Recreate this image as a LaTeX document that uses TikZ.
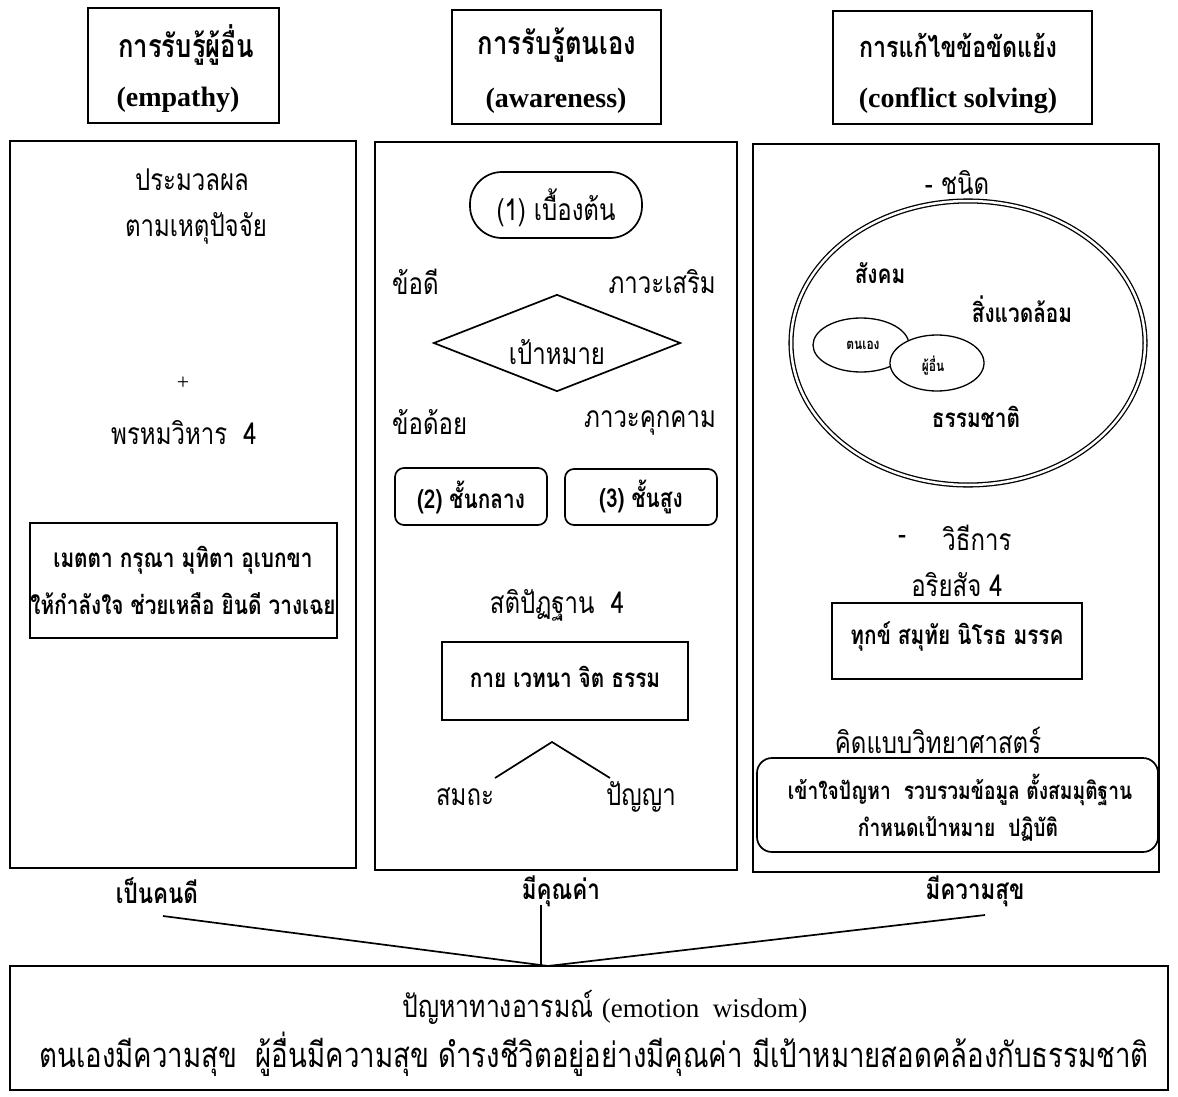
\documentclass[tikz,border=0pt]{standalone}
\usepackage{fontspec}
\setmainfont{Liberation Serif}
\newfontfamily\thf[Script=Thai,FakeStretch=0.8]{Loma}
\usetikzlibrary{shapes.geometric}
\begin{document}
\begin{tikzpicture}[x=1pt,y=-1pt,
  frame/.style={draw, line width=1.7pt, inner sep=0pt},
  rbox/.style={frame, rounded corners=9pt},
  ttl/.style={inner sep=0pt, font=\thf\bfseries\fontsize{32}{36}\selectfont},
  eng/.style={inner sep=0pt, font=\bfseries\fontsize{28}{32}\selectfont},
  body/.style={inner sep=0pt, font=\thf\fontsize{30}{34}\selectfont},
  sbody/.style={inner sep=0pt, font=\thf\bfseries\fontsize{26}{30}\selectfont},
  rbody/.style={inner sep=0pt, font=\thf\bfseries\fontsize{24}{28}\selectfont},
  obody/.style={inner sep=0pt, font=\thf\bfseries\fontsize{28}{32}\selectfont},
  bbody/.style={inner sep=0pt, font=\thf\fontsize{34.5}{38}\selectfont},
  tiny/.style={inner sep=0pt, font=\thf\bfseries\fontsize{15}{17}\selectfont},
  conn/.style={line width=1.7pt}]
\useasboundingbox (0,0) rectangle (1178,1097);

% title boxes
\node[frame, minimum width=191pt, minimum height=115pt] (T1) at (183.5,65.5) {};
\node[frame, minimum width=209pt, minimum height=114pt] (T2) at (556.5,67) {};
\node[frame, minimum width=259pt, minimum height=113pt] (T3) at (962.5,67.5) {};
\node[ttl] (t1a) at (186,45) {การรับรู้ผู้อื่น};
\node[eng] (t1b) at (178,100) {(empathy)};
\node[ttl] (t2a) at (557,45) {การรับรู้ตนเอง};
\node[eng] (t2b) at (556,101) {(awareness)};
\node[ttl, font=\thf\bfseries\fontsize{29}{33}\selectfont] (t3a) at (958,45) {การแก้ไขข้อขัดแย้ง};
\node[eng] (t3b) at (958,101) {(conflict solving)};

% panels
\node[frame, minimum width=346pt, minimum height=727pt] (P1) at (183,504.5) {};
\node[frame, minimum width=362pt, minimum height=728pt] (P2) at (556,506) {};
\node[frame, minimum width=406pt, minimum height=728pt] (P3) at (956,508) {};

% left panel
\node[body] (l1) at (192,180) {ประมวลผล};
\node[body] (l2) at (196,228) {ตามเหตุปัจจัย};
\node[inner sep=0pt, font=\fontsize{22}{24}\selectfont] (plus) at (183,383) {+};
\node[body] (l3) at (184,433) {พรหมวิหาร\ \ 4};
\node[frame, minimum width=307pt, minimum height=115pt] (M) at (183.5,580.5) {};
\node[sbody] (m1) at (183,560) {เมตตา กรุณา มุทิตา อุเบกขา};
\node[sbody] (m2) at (183,604) {ให้กำลังใจ ช่วยเหลือ ยินดี วางเฉย};

% middle panel
\node[frame, rounded corners=32pt, minimum width=172pt, minimum height=66pt] (S1) at (556,205) {};
\node[body] (s1t) at (556,208) {(1) เบื้องต้น};
\node[body, anchor=west] (adv) at (392,282) {ข้อดี};
\node[body, anchor=east] (opp) at (716,282) {ภาวะเสริม};
\node[draw, line width=1.7pt, diamond, inner sep=0pt, minimum width=247pt, minimum height=97pt] (G) at (557,343) {};
\node[body] (gt) at (557,352) {เป้าหมาย};
\node[body, anchor=west] (dis) at (392,422) {ข้อด้อย};
\node[body, anchor=east] (thr) at (716,423) {ภาวะคุกคาม};
\node[rbox, minimum width=152pt, minimum height=57pt] (S2) at (471,496.5) {};
\node[sbody] (s2t) at (471,497) {(2) ชั้นกลาง};
\node[rbox, minimum width=152pt, minimum height=56pt] (S3) at (641,497) {};
\node[sbody] (s3t) at (641,497) {(3) ชั้นสูง};
\node[body] (sat) at (557,605) {สติปัฏฐาน\ \ 4};
\node[frame, minimum width=246pt, minimum height=78pt] (K) at (565,681) {};
\node[sbody] (kt) at (565,677) {กาย เวทนา จิต ธรรม};
\coordinate (peak) at (552,742);
\coordinate (sl) at (495,778);
\coordinate (sr) at (610,778);
\draw[conn] (sl) -- (peak) -- (sr);
\node[body] (sam) at (465,797) {สมถะ};
\node[body] (pan) at (641,797) {ปัญญา};

% right panel
\node[body] (kind) at (957,183) {- ชนิด};
\node[draw, ellipse, double, double distance=2.5pt, line width=1.3pt, minimum width=354pt, minimum height=284pt] (E) at (968,343) {};
\node[sbody] (soc) at (880,273) {สังคม};
\node[sbody] (env) at (1022,309) {สิ่งแวดล้อม};
\node[draw, ellipse, line width=1.3pt, minimum width=96pt, minimum height=54pt] (self) at (861,345) {};
\node[draw, ellipse, line width=1.3pt, fill=white, minimum width=94pt, minimum height=56pt] (oth) at (937,363) {};
\node[tiny] (selft) at (863,345) {ตนเอง};
\node[tiny] (otht) at (933,366) {ผู้อื่น};
\node[sbody] (nat) at (976,417) {ธรรมชาติ};
\node[body] (dash) at (902,540) {-};
\node[body] (meth) at (977,538) {วิธีการ};
\node[body] (ari) at (957,585) {อริยสัจ 4};
\node[frame, minimum width=250pt, minimum height=76pt] (A) at (957,641) {};
\node[sbody] (at) at (957,636) {ทุกข์ สมุทัย นิโรธ มรรค};
\node[body] (sci) at (938,740) {คิดแบบวิทยาศาสตร์};
\node[frame, rounded corners=15pt, minimum width=401pt, minimum height=94pt] (R) at (957.5,805) {};
\node[rbody] (r1) at (960,790) {เข้าใจปัญหา\ \ รวบรวมข้อมูล ตั้งสมมุติฐาน};
\node[rbody] (r2) at (958,829) {กำหนดเป้าหมาย\ \ ปฏิบัติ};

% outcomes
\node[obody] (o1) at (157,891) {เป็นคนดี};
\node[obody] (o2) at (561,891) {มีคุณค่า};
\node[obody] (o3) at (975,891) {มีความสุข};
\node[frame, minimum width=1158pt, minimum height=124pt] (B) at (589,1028) {};
\coordinate (c1) at (163,916);
\coordinate (c3) at (985,915);
\coordinate (m) at (548,966);
\coordinate (v) at (541,905);
\coordinate (vb) at (541,966);
\draw[conn] (c1) -- (m);
\draw[conn] (c3) -- (m);
\draw[conn] (v) -- (vb);
\node[inner sep=0pt, font=\thf\fontsize{31}{34}\selectfont] (b1) at (605,1007) {ปัญหาทางอารมณ์ {\rmfamily\fontsize{27}{30}\selectfont(emotion\ \ wisdom)}};
\node[bbody] (b2) at (594,1054) {ตนเองมีความสุข\ \ ผู้อื่นมีความสุข ดำรงชีวิตอยู่อย่างมีคุณค่า มีเป้าหมายสอดคล้องกับธรรมชาติ};
\end{tikzpicture}
\end{document}
